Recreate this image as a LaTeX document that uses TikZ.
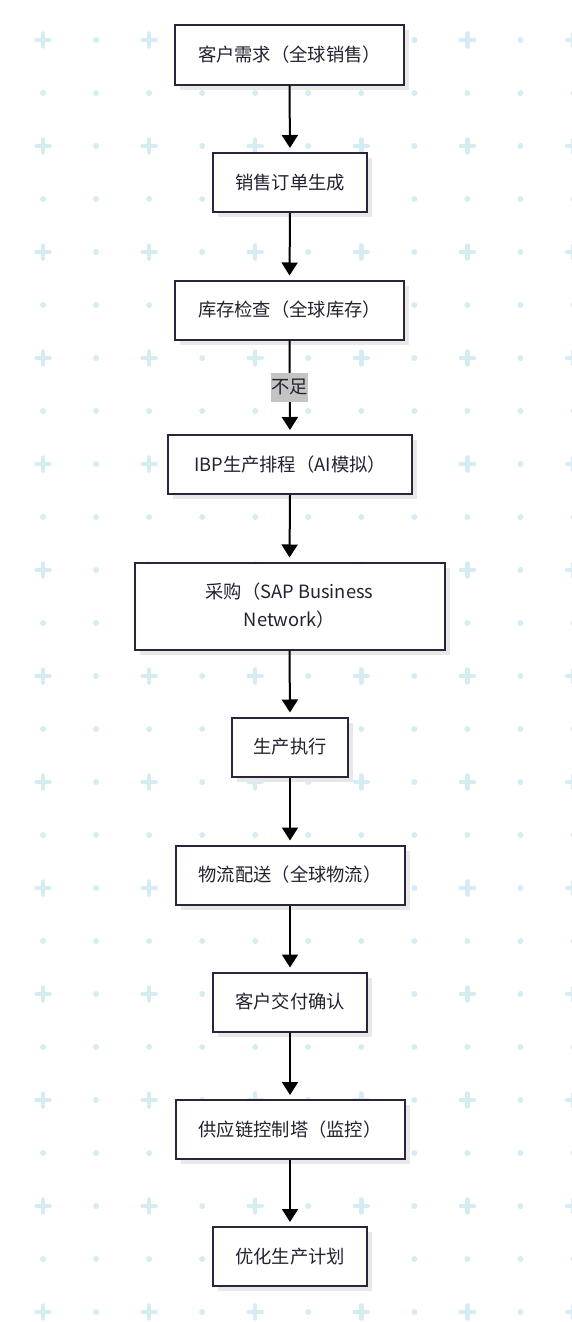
\documentclass[tikz,border=0pt]{standalone}
\usepackage{fontspec}
\setmainfont{Noto Sans CJK SC}
\usetikzlibrary{arrows.meta,shadows}
\definecolor{gridc}{HTML}{D5EDF2}
\definecolor{boxline}{HTML}{28253D}
\definecolor{txt}{HTML}{222230}
\definecolor{shadowc}{HTML}{E8E8E8}
\definecolor{lblbg}{HTML}{C4C4C4}
\tikzset{
  flowbox/.style={draw=boxline, line width=2pt, fill=white, inner sep=0pt,
    text=txt, align=center, minimum height=59pt,
    font=\fontsize{18.3}{28}\selectfont,
    drop shadow={shadow xshift=5pt, shadow yshift=-5pt, fill=shadowc, opacity=1}},
  flowarrow/.style={draw=black, line width=2pt,
    -{Triangle[length=13pt,width=16pt]}, shorten >=4pt},
  edgelabel/.style={fill=lblbg, text=txt, inner sep=0pt, minimum width=37pt,
    minimum height=29pt, font=\fontsize{18.3}{20}\selectfont},
  gridplus/.style={draw=gridc, line width=4.5pt, line cap=round},
  griddot/.style={fill=gridc}
}
\begin{document}
\begin{tikzpicture}[x=1pt,y=-1pt]
\useasboundingbox (0,0) rectangle (572,1322);
% background pattern
\foreach \i in {0,...,10}{
  \foreach \j in {0,...,24}{
    \pgfmathsetmacro{\px}{43+53.05*\i}
    \pgfmathsetmacro{\py}{40+53*\j}
    \pgfmathtruncatemacro{\ie}{mod(\i,2)}
    \pgfmathtruncatemacro{\je}{mod(\j,2)}
    \ifnum\ie=0 \ifnum\je=0
      \draw[gridplus] (\px-6.5,\py) -- (\px+6.5,\py) (\px,\py-6.5) -- (\px,\py+6.5);
    \else
      \fill[griddot] (\px,\py) circle (3);
    \fi\else
      \fill[griddot] (\px,\py) circle (3);
    \fi
  }
}
% nodes
\node[flowbox, minimum width=229pt] (n1) at (289.5,55) {客户需求（全球销售）};
\node[flowbox, minimum width=154pt] (n2) at (290,182.5) {销售订单生成};
\node[flowbox, minimum width=229pt] (n3) at (289.5,310) {库存检查（全球库存）};
\node[flowbox, minimum width=244pt] (n4) at (290,464.5) {IBP生产排程（AI模拟）};
\node[flowbox, minimum width=310pt, minimum height=87pt] (n5) at (289.5,606) {采购（SAP Business\\Network）};
\node[flowbox, minimum width=116pt] (n6) at (290,747) {生产执行};
\node[flowbox, minimum width=229pt] (n7) at (290,875) {物流配送（全球物流）};
\node[flowbox, minimum width=154pt] (n8) at (290,1002) {客户交付确认};
\node[flowbox, minimum width=229pt] (n9) at (290,1129.5) {供应链控制塔（监控）};
\node[flowbox, minimum width=154pt] (n10) at (290,1256.5) {优化生产计划};
% connectors
\draw[flowarrow] (n1.south) -- (n2.north);
\draw[flowarrow] (n2.south) -- (n3.north);
\draw[flowarrow] (n3.south) -- node[edgelabel, pos=0.5] (l34) {不足} (n4.north);
\draw[flowarrow] (n4.south) -- (n5.north);
\draw[flowarrow] (n5.south) -- (n6.north);
\draw[flowarrow] (n6.south) -- (n7.north);
\draw[flowarrow] (n7.south) -- (n8.north);
\draw[flowarrow] (n8.south) -- (n9.north);
\draw[flowarrow] (n9.south) -- (n10.north);
\end{tikzpicture}
\end{document}
